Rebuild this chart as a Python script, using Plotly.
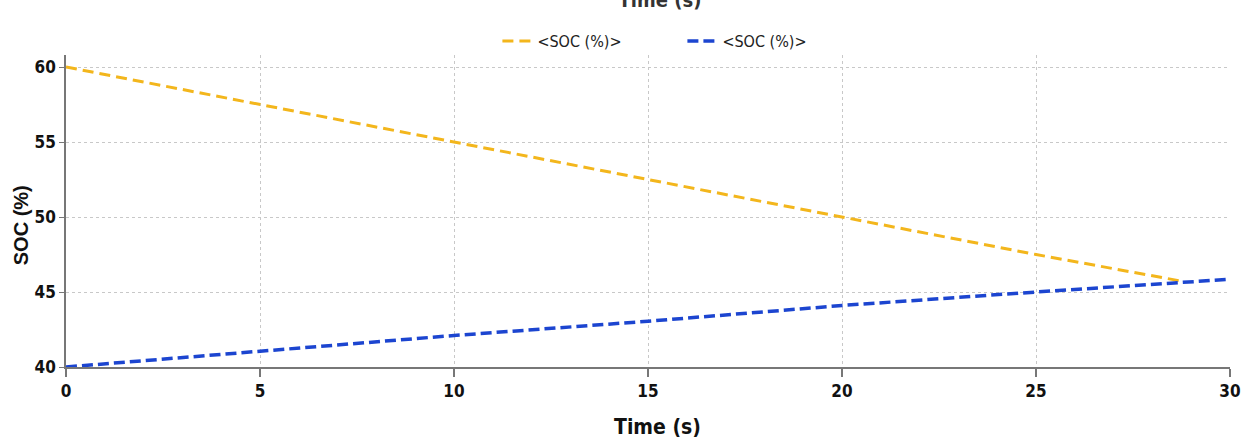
import plotly.graph_objects as go

# Data
time_orange = [0, 5, 10, 15, 20, 25, 28.8]
soc_orange = [60.0, 57.5, 55.0, 52.5, 50.0, 47.5, 45.7]

time_blue = [0, 5, 10, 15, 20, 25, 30]
soc_blue = [40.0, 41.05, 42.1, 43.05, 44.1, 45.0, 45.85]

x_ticks = [0, 5, 10, 15, 20, 25, 30]
y_ticks = [40, 45, 50, 55, 60]
series_name = "&lt;SOC (%)&gt;"

NARROW = "DejaVu Sans Condensed, Liberation Sans Narrow, Arial Narrow, sans-serif"

fig = go.Figure()
fig.add_trace(go.Scatter(
    x=time_orange, y=soc_orange, mode="lines", name=series_name,
    line=dict(color="#F3B61C", width=3, dash="11px,6px"),
))
fig.add_trace(go.Scatter(
    x=time_blue, y=soc_blue, mode="lines", name=series_name,
    line=dict(color="#1C45D0", width=3.5, dash="11px,5px"),
))

fig.update_layout(
    width=1253, height=446,
    margin=dict(l=66, r=16, t=55, b=79),
    paper_bgcolor="white", plot_bgcolor="white",
    title=dict(text="<b>Time (s)</b>", x=660 / 1253, xanchor="center",
               xref="container", y=1.0, yref="container", yanchor="middle",
               font=dict(family=NARROW, size=20, color="#333")),
    legend=dict(orientation="h", x=(500 - 66) / 1171, xanchor="left",
                y=1 + 14 / 312, yanchor="middle",
                font=dict(family=NARROW, size=16, color="#222"),
                entrywidth=140, entrywidthmode="pixels",
                tracegroupgap=0, bgcolor="rgba(0,0,0,0)"),
    showlegend=True,
    annotations=[
        dict(text="<b>Time (s)</b>", xref="paper", yref="paper",
             x=(661 - 66) / 1171, y=-(427 - 367) / 312,
             xanchor="center", yanchor="middle", showarrow=False,
             font=dict(family=NARROW, size=21, color="#111")),
        dict(text="<b>SOC (%)</b>", xref="paper", yref="paper",
             x=-(66 - 21) / 1171, y=(367 - 225) / 312, textangle=-90,
             xanchor="center", yanchor="middle", showarrow=False,
             font=dict(family="Liberation Sans, Arial, sans-serif", size=20, color="#111")),
    ],
)

fig.update_xaxes(
    range=[0, 30], tickvals=x_ticks, ticktext=["<b>%d</b>" % v for v in x_ticks],
    showline=True, linecolor="#777", linewidth=2,
    ticks="outside", ticklen=8, tickcolor="#777", tickwidth=1.5,
    showgrid=True, gridcolor="#c8c8c8", griddash="dot", gridwidth=1,
    zeroline=False,
    tickfont=dict(family=NARROW, size=17, color="#111"),
)
fig.update_yaxes(
    range=[40, 60.8], tickvals=y_ticks, ticktext=["<b>%d</b>" % v for v in y_ticks],
    showline=True, linecolor="#777", linewidth=1.5,
    ticks="outside", ticklen=5, tickcolor="#777", tickwidth=1,
    showgrid=True, gridcolor="#c8c8c8", griddash="dot", gridwidth=1,
    zeroline=False,
    tickfont=dict(family=NARROW, size=17, color="#111"),
)

fig.write_html("out.html")
